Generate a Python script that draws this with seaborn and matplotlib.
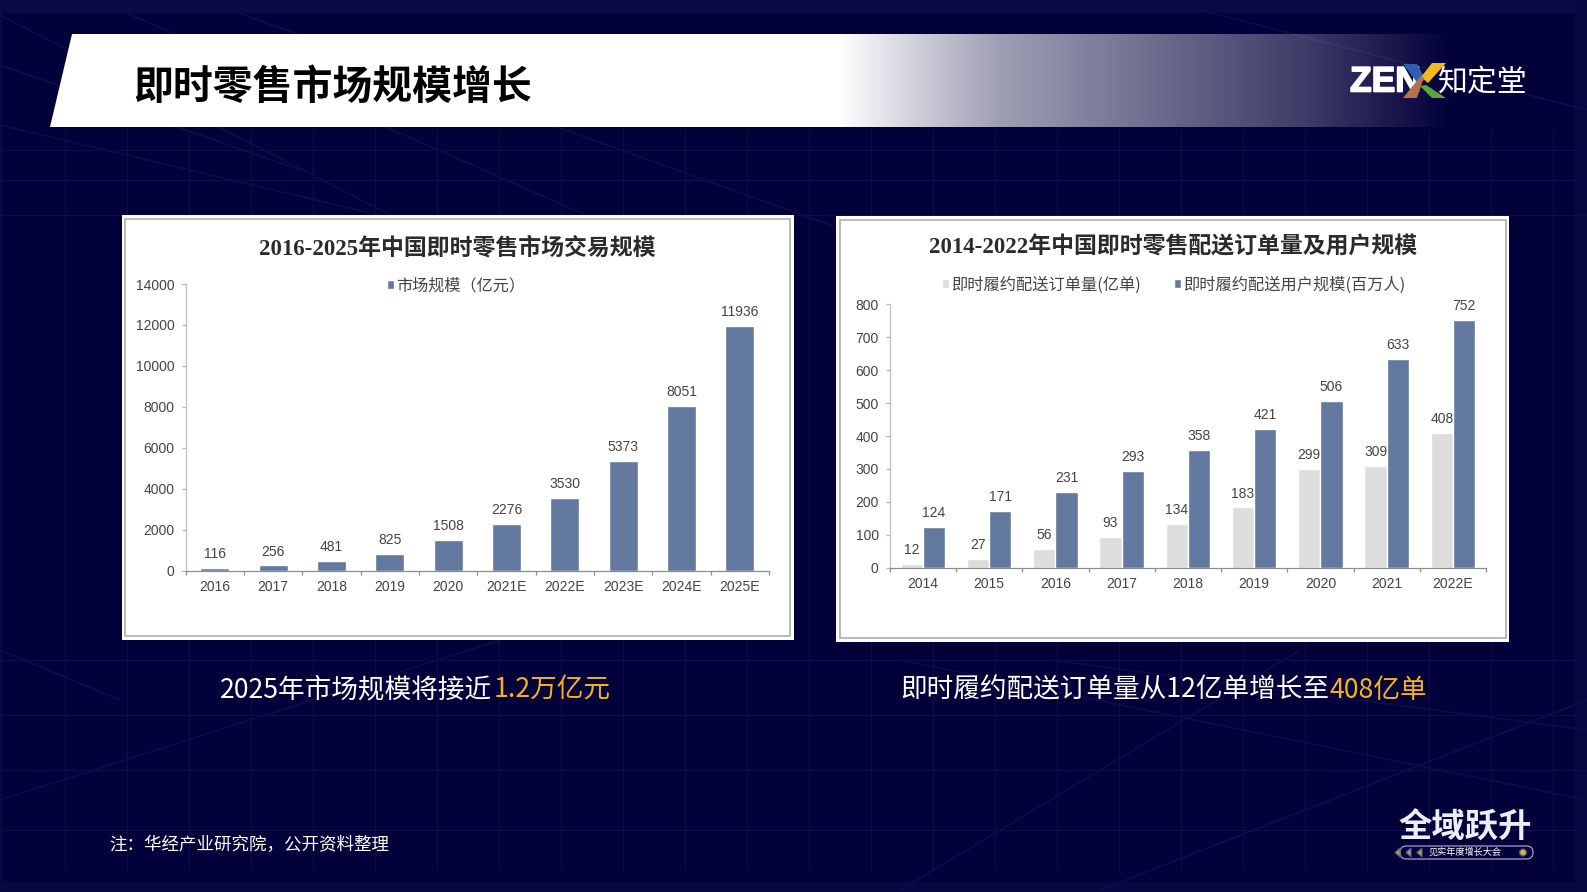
import numpy as np
import pandas as pd
import matplotlib
matplotlib.use("Agg")
import matplotlib.pyplot as plt
import matplotlib.patheffects as pe
from matplotlib.patches import Polygon, Rectangle, FancyBboxPatch
import seaborn as sns

# ---- data ----
years_a = ["2016", "2017", "2018", "2019", "2020", "2021E", "2022E", "2023E", "2024E", "2025E"]
market_size = [116, 256, 481, 825, 1508, 2276, 3530, 5373, 8051, 11936]
series_a = "市场规模（亿元）"

years_b = ["2014", "2015", "2016", "2017", "2018", "2019", "2020", "2021", "2022E"]
orders = [12, 27, 56, 93, 134, 183, 299, 309, 408]
users = [124, 171, 231, 293, 358, 421, 506, 633, 752]
series_b1 = "即时履约配送订单量(亿单)"
series_b2 = "即时履约配送用户规模(百万人)"

slide_title = "即时零售市场规模增长"
title_a = "2016-2025年中国即时零售市场交易规模"
title_b = "2014-2022年中国即时零售配送订单量及用户规模"
note = "注：华经产业研究院，公开资料整理"

BG = "#03013a"
BLUE = "#64799f"
GREY = "#dddddd"
TXT = "#444444"
SANS = ["Liberation Sans", "Noto Sans CJK SC", "DejaVu Sans"]
SERIF = ["Liberation Serif", "Noto Sans CJK SC", "DejaVu Sans"]
CJK = ["Noto Sans CJK SC", "DejaVu Sans"]

sns.set_theme(style="white")
plt.rcParams["font.family"] = SANS
W, H = 1587, 892
fig = plt.figure(figsize=(W / 100, H / 100), dpi=100, facecolor=BG)

# ---- slide background, in pixel coordinates ----
bg = fig.add_axes([0, 0, 1, 1], zorder=0)
bg.set_xlim(0, W)
bg.set_ylim(H, 0)
bg.axis("off")
bg.add_patch(Rectangle((0, 0), W, 13, fc="#0b0a48", ec="none"))
bg.add_patch(Rectangle((0, 0), 2, H, fc="#0b0a48", ec="none"))
bg.add_patch(Rectangle((W - 12, 0), 12, H, fc="#08073f", ec="none"))
bg.add_patch(Rectangle((0, H - 10), W, 10, fc="#08073f", ec="none"))
gc = "#0e0d4c"
for x in np.arange(65, W, 62):
    bg.plot([x, x], [130, 870], color=gc, lw=0.8, zorder=1)
for y in [150, 180, 215, 660, 715, 770, 830]:
    bg.plot([0, W], [y, y], color=gc, lw=0.8, zorder=1)
for x0, y0, x1, y1 in [(0, 15, 420, 230), (120, 10, 620, 230), (230, 10, 900, 250), (0, 65, 300, 170),
                       (0, 125, 400, 220), (900, 660, 1587, 800), (1050, 660, 1587, 730), (0, 800, 500, 640),
                       (1100, 890, 1587, 700), (1200, 10, 1587, 110), (900, 890, 1300, 650), (0, 650, 120, 700)]:
    bg.plot([x0, x1], [y0, y1], color=gc, lw=1.1, zorder=1)

# title banner with fade to the right
xs = np.arange(0, W)
alpha = np.interp(xs, [0, 840, 1000, 1300, 1450], [1, 1, 0.62, 0.24, 0])
rgba = np.ones((1, W, 4))
rgba[0, :, 3] = alpha
im = bg.imshow(rgba, extent=(0, W, 127, 34), aspect="auto", zorder=2, interpolation="bilinear")
bg.set_xlim(0, W)
bg.set_ylim(H, 0)
clip = Polygon([(71.5, 34), (W, 34), (W, 127), (49.5, 127)], transform=bg.transData)
im.set_clip_path(clip)
bg.text(133, 87, slide_title, family=CJK, weight="bold", fontsize=28.7, color="black",
        va="center", ha="left", zorder=3)

# ZEN logo
bg.text(1350, 82, "ZEN", family=["Liberation Sans"], weight="bold", fontsize=25.5, color="white",
        va="center", ha="left", zorder=4,
        path_effects=[pe.withStroke(linewidth=1.2, foreground="white")])
for pts, c in [([(1403, 64), (1417, 64), (1425, 79), (1419, 85)], "#2f5fb3"),
               ([(1432, 63), (1446, 63), (1428, 83), (1421, 77)], "#f2b81c"),
               ([(1403, 98), (1417, 98), (1424, 77), (1420, 77)], "#b8704a"),
               ([(1426, 85), (1446, 98), (1432, 98), (1420, 86)], "#5aa83c")]:
    bg.add_patch(Polygon(pts, fc=c, ec="none", zorder=5))
bg.text(1437, 83, "知定堂", family=CJK, fontsize=21.5, color="white", va="center", ha="left", zorder=4)

# chart panels
for (x0, x1, y0, y1) in [(121.5, 793.5, 214.5, 640), (836, 1509, 216, 642)]:
    bg.add_patch(Rectangle((x0, y0), x1 - x0, y1 - y0, fc="white", ec="none", zorder=3))
    bg.add_patch(Rectangle((x0 + 3.5, y0 + 4), x1 - x0 - 7, y1 - y0 - 8, fc="white", ec="#b4b4b4", lw=1.3, zorder=3))
bg.text(457, 248, title_a, family=SERIF, weight="bold", fontsize=16.5, color="#2b2b2b", ha="center", va="center", zorder=4)
bg.text(1173, 247, title_b, family=SERIF, weight="bold", fontsize=16.5, color="#2b2b2b", ha="center", va="center", zorder=4)

# captions and footers
cap_y = 690
bg.text(220, cap_y, "2025年市场规模将接近", family=CJK, fontsize=19.2, color="white", va="center", ha="left", zorder=4)
bg.text(494, cap_y, "1.2万亿元", family=CJK, fontsize=19.2, color="#f5b21a", va="center", ha="left", zorder=4)
bg.text(900, cap_y, "即时履约配送订单量从12亿单增长至", family=CJK, fontsize=19.2, color="white", va="center", ha="left", zorder=4)
bg.text(1329, cap_y, "408亿单", family=CJK, fontsize=19.2, color="#f5b21a", va="center", ha="left", zorder=4)
bg.text(109, 845, note, family=CJK, fontsize=12.6, color="white", va="center", ha="left", zorder=4)

bg.text(1465, 828, "全域跃升", family=CJK, weight="bold", fontsize=24, color="#eceef6", va="center", ha="center", zorder=4)
bg.add_patch(FancyBboxPatch((1400, 846), 133, 13, boxstyle="round,pad=0,rounding_size=6.5",
                            fc="none", ec="#9aa3c8", lw=0.9, zorder=4))
bg.text(1465, 852.5, "见实年度增长大会", family=CJK, fontsize=6.6, color="white", va="center", ha="center", zorder=5)
for x in [1395, 1406, 1417]:
    bg.add_patch(Polygon([(x + 5, 848), (x, 852.5), (x + 5, 857)], fc="#c9973a", ec="#3f62b5", lw=0.8, zorder=5))
bg.add_patch(plt.Circle((1523, 852.5), 3.5, fc="#f0b429", ec="#2d4da3", lw=1, zorder=5))


def pixel_axes(left, right, top, bottom):
    return fig.add_axes([left / W, 1 - bottom / H, (right - left) / W, (bottom - top) / H],
                        zorder=2, facecolor="none")


def style_axis(ax, cats, ymax, step):
    n = len(cats)
    ax.set_xlim(-0.5, n - 0.5)
    ax.set_ylim(0, ymax)
    ax.set_yticks(np.arange(0, ymax + 1, step))
    ax.set_xticks(np.arange(n + 1) - 0.5, [""] * (n + 1))
    ax.set_xticks(np.arange(n), cats, minor=True)
    ax.tick_params(axis="x", which="major", length=3, width=0.9, color="#8c8c8c", bottom=True)
    ax.tick_params(axis="x", which="minor", length=0, pad=7, labelsize=10, labelcolor=TXT, bottom=True)
    ax.tick_params(axis="y", length=3, width=0.9, color="#b0b0b0", left=True, pad=5, labelsize=10, labelcolor=TXT)
    ax.set_xlabel("")
    ax.set_ylabel("")
    for s in ["top", "right"]:
        ax.spines[s].set_visible(False)
    ax.spines["left"].set_color("#c0c0c0")
    ax.spines["bottom"].set_color("#8c8c8c")
    ax.spines["left"].set_linewidth(0.9)
    ax.spines["bottom"].set_linewidth(0.9)


def small_legend(ax, xc, yc, ncol, size):
    ax.legend(loc="center", bbox_to_anchor=(xc / W, 1 - yc / H), bbox_transform=fig.transFigure,
              ncol=ncol, frameon=False, handlelength=0.45, handleheight=0.45, handletextpad=0.15,
              columnspacing=2.0, prop={"family": CJK, "size": size}, labelcolor=TXT, borderpad=0)


# ---- left chart ----
df_a = pd.DataFrame({"year": years_a, "value": market_size, "series": series_a})
ax1 = pixel_axes(185.7, 769, 284, 570.7)
sns.barplot(data=df_a, x="year", y="value", hue="series", palette=[BLUE], width=0.5, ax=ax1, saturation=1)
style_axis(ax1, years_a, 14000, 2000)
for c in ax1.containers:
    ax1.bar_label(c, padding=5, fontsize=10, color=TXT)
small_legend(ax1, 456, 285.5, 1, 11.6)

# ---- right chart ----
df_b = pd.DataFrame({"year": years_b * 2, "value": orders + users,
                     "series": [series_b1] * len(years_b) + [series_b2] * len(years_b)})
ax2 = pixel_axes(889.8, 1486, 304.3, 567.7)
sns.barplot(data=df_b, x="year", y="value", hue="series", palette=[GREY, BLUE], width=0.67, gap=0,
            ax=ax2, saturation=1)
style_axis(ax2, years_b, 800, 100)
grey_bars, blue_bars = ax2.containers
for b in grey_bars:
    b.set_zorder(2)
for b in blue_bars:
    b.set_zorder(4)
ax2.bar_label(grey_bars, padding=5, fontsize=10, color=TXT, zorder=3)
ax2.bar_label(blue_bars, padding=5, fontsize=10, color=TXT, zorder=5)
small_legend(ax2, 1174, 285, 2, 11.7)

fig.savefig("out.png", dpi=100, facecolor=BG)
